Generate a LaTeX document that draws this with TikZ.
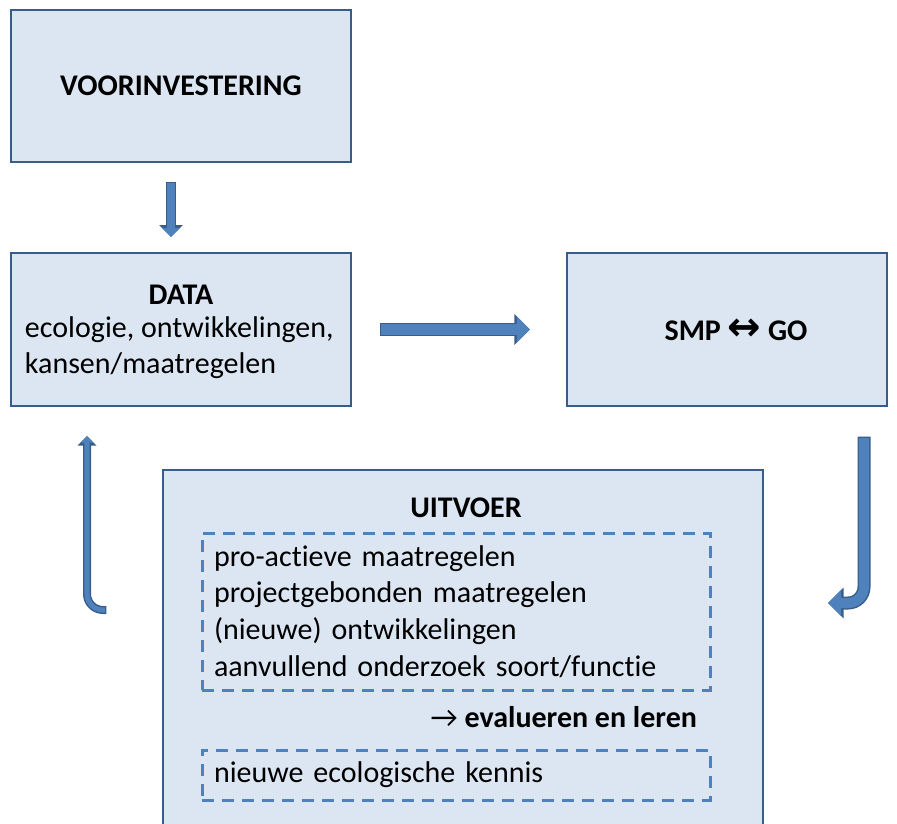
\documentclass[tikz,border=0pt]{standalone}
\usepackage{fontspec}
\setmainfont{Carlito}[Ligatures=CommonOff]
\newfontfamily\arrowfont{DejaVu Sans}
\usetikzlibrary{arrows.meta,calc}
\definecolor{boxfill}{HTML}{DCE6F2}
\definecolor{boxline}{HTML}{385D8A}
\definecolor{arrowfill}{HTML}{4F81BD}
\tikzset{every node/.style={font=\fontsize{22.5}{27.5}\selectfont,inner sep=0pt,outer sep=0pt},box/.style={draw=boxline,fill=boxfill,line width=1.6pt},
dashbox/.style={draw=arrowfill,line width=2.25pt,dash pattern=on 9pt off 6pt,minimum width=381pt,text width=363pt,align=left},
blockarrow/.style={line width=#1-2.2pt,draw=arrowfill,-{Triangle[width=0pt 2.5,length=0pt 1.3]},preaction={draw=boxline,line width=#1,shorten <=-1pt,-{Triangle[width=0pt 2.3,length=0pt 1.2]}}}}

\begin{document}
\begin{tikzpicture}[x=.75pt,y=-.75pt]
\useasboundingbox (0,0) rectangle (897,824);\clip (0,0) rectangle (897,824);
\node[box,minimum width=255pt,minimum height=114pt] (voor) at (181,86){\textbf{VOORINVESTERING}};
\node[box,minimum width=255pt,minimum height=114.75pt] (data) at (181,329.5){};
\node (datatitle) at (181,295){\textbf{DATA}};\node[anchor=west,align=left] (databody) at (25,347.5){ecologie, ontwikkelingen,\\kansen/maatregelen};
\node[box,minimum width=240pt,minimum height=114.75pt] (smp) at (727,329.5){};
\node (smptext) at (736,329.5){\textbf{SMP {\arrowfont\fontsize{30}{30}\selectfont ↔} GO}};
\node[box,minimum width=450pt,minimum height=307.5pt] (uitvoer) at (463,675){};
\node (uitvoertitle) at (466,508){\textbf{UITVOER}};
\node[dashbox,minimum height=117.75pt] (maatregelen) at (456,611.5){pro-actieve maatregelen\\projectgebonden maatregelen\\(nieuwe) ontwikkelingen\\aanvullend onderzoek soort/functie};
\node[anchor=east] (leren) at (697,717){→ \textbf{evalueren en leren}};
\node[dashbox,minimum height=37.5pt] (kennis) at (456,775){nieuwe ecologische kennis};
\draw[blockarrow=7.5pt] ($(voor.south)+(-10,21)$)--($(data.north)+(-10,-16)$);
\draw[blockarrow=9.75pt] ($(data.east)+(30,0)$)--($(smp.west)+(-37,0)$);
\coordinate (backL) at ($(uitvoer.north west)+(-58,140)$);\coordinate (backR) at ($(uitvoer.north east)+(65,133)$);
\draw[blockarrow=6pt,rounded corners=12pt] (backL) -| ($(data.south west)+(76,30)$);
\draw[blockarrow=9.75pt,rounded corners=12pt] ($(smp.south east)+(-23,32)$) |- (backR);
\end{tikzpicture}
\end{document}
